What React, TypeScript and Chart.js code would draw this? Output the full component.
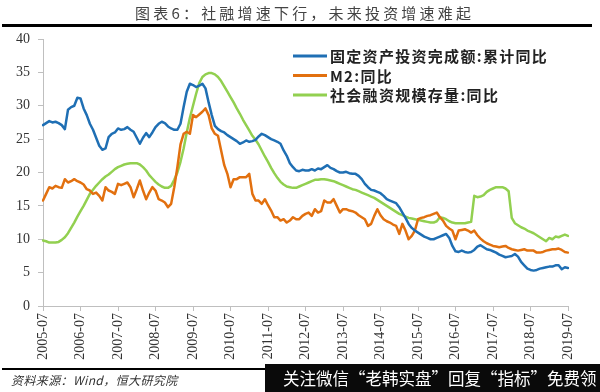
import React, { useEffect, useRef } from "react";
import { Chart, registerables } from "chart.js";

Chart.register(...registerables);

// ---- data ----
const firstYear = 2005;
const firstMonth = 7;
const monthCount = 169; // 2005-07 .. 2019-07

const yearTicks = [
  "2005-07", "2006-07", "2007-07", "2008-07", "2009-07", "2010-07", "2011-07", "2012-07",
  "2013-07", "2014-07", "2015-07", "2016-07", "2017-07", "2018-07", "2019-07",
];

const seriesNames = ["固定资产投资完成额:累计同比", "M2:同比", "社会融资规模存量:同比"];

const faiYoY = [
  27.1, 27.4, 27.7, 27.5, 27.6, 27.4, 27.1, 26.5, 29.4, 29.8, 30.0, 31.2,
  31.1, 29.6, 28.6, 27.3, 26.4, 25.2, 24.0, 23.4, 23.6, 25.3, 25.8, 26.0,
  26.6, 26.4, 26.5, 26.8, 26.4, 26.1, 25.2, 24.3, 25.2, 25.9, 25.3, 26.0,
  26.8, 27.3, 27.6, 27.4, 26.9, 26.6, 26.4, 26.4, 27.3, 29.8, 32.1, 33.3,
  33.1, 32.8, 33.0, 33.3, 32.6, 30.5, 28.6, 27.0, 26.5, 26.2, 26.0, 25.6,
  25.3, 25.0, 24.7, 24.3, 24.5, 24.8, 24.6, 24.7, 24.9, 25.4, 25.8, 25.6,
  25.3, 25.0, 24.8, 24.6, 24.3, 23.3, 22.5, 21.4, 20.8, 20.3, 20.2, 20.4,
  20.3, 20.3, 20.5, 20.3, 20.6, 20.5, 20.8, 21.1, 20.7, 20.5, 20.2, 20.0,
  20.0, 20.1, 19.9, 19.8, 19.8, 19.5, 19.0, 18.3, 17.8, 17.4, 17.3, 17.1,
  16.9, 16.5, 16.0, 15.8, 15.6, 15.4, 14.8, 14.0, 13.2, 12.3, 11.7, 11.3,
  11.0, 10.7, 10.4, 10.2, 10.0, 10.0, 10.2, 10.4, 10.6, 10.8, 10.2, 9.0,
  8.2, 8.1, 8.3, 8.1, 8.0, 8.1, 8.4, 8.9, 9.1, 8.8, 8.5, 8.4,
  8.2, 8.0, 7.7, 7.5, 7.3, 7.4, 7.5, 7.8, 7.4, 6.6, 6.1, 5.6,
  5.4, 5.3, 5.4, 5.6, 5.7, 5.8, 5.9, 5.9, 6.1, 6.1, 5.5, 5.8,
  5.7,
];

const m2YoY = [
  15.8, 16.8, 17.8, 17.6, 18.0, 17.8, 17.7, 19.0, 18.5, 18.7, 19.0, 18.7,
  18.5, 18.2, 17.5, 17.3, 16.8, 17.0, 16.5, 15.8, 17.8, 17.3, 17.1, 16.8,
  18.3, 18.1, 18.3, 18.5, 17.8, 16.3, 17.5, 18.8, 17.3, 16.0, 17.0, 17.8,
  17.3, 16.0, 15.8, 15.5, 14.8, 15.3, 17.8, 20.8, 24.2, 25.8, 26.1, 25.8,
  28.6, 28.3, 28.7, 29.1, 29.6, 28.6, 26.6, 25.8, 25.5, 23.3, 21.1, 19.8,
  17.8, 19.0, 19.0, 19.3, 19.3, 19.3, 19.8, 16.8, 15.8, 15.8, 15.3, 16.0,
  15.1, 14.3, 13.3, 13.3, 12.8, 13.0, 12.5, 12.8, 13.3, 13.0, 13.0, 13.5,
  13.8, 14.0, 13.5, 14.5, 14.0, 14.2, 15.8, 15.5, 15.5, 16.0, 15.0, 14.0,
  14.5, 14.5, 14.3, 14.2, 14.0, 13.6, 13.3, 13.0, 12.0, 12.3, 13.5, 14.5,
  13.6, 13.0, 12.7, 12.5, 12.2, 12.0, 10.8, 12.3, 11.3, 10.0, 10.5, 11.3,
  13.0, 13.2, 13.3, 13.5, 13.6, 13.8, 14.0, 13.3, 12.8, 12.0, 11.6, 11.3,
  10.0, 11.3, 11.4, 11.5, 11.3, 11.0, 11.3, 10.6, 10.1, 9.7, 9.4, 9.2,
  9.0, 8.9, 8.8, 8.9, 9.0, 8.7, 8.5, 8.4, 8.3, 8.4, 8.5, 8.3,
  8.3, 8.3, 8.0, 8.0, 8.1, 8.3, 8.4, 8.5, 8.5, 8.6, 8.4, 8.1,
  8.0,
];

const afreYoY = [
  9.8, 9.7, 9.5, 9.5, 9.5, 9.6, 9.9, 10.3, 10.9, 11.7, 12.5, 13.4,
  14.2, 15.0, 15.9, 16.8, 17.4, 18.0, 18.5, 19.0, 19.4, 19.7, 20.1, 20.5,
  20.8, 21.0, 21.2, 21.3, 21.4, 21.4, 21.4, 21.2, 20.8, 20.3, 19.6, 19.1,
  18.6, 18.2, 17.9, 17.7, 17.7, 18.0, 18.9, 20.0, 21.6, 23.6, 26.0, 28.2,
  30.0, 31.8, 33.4, 34.3, 34.7, 34.9, 34.9, 34.7, 34.3, 33.7, 32.9, 32.1,
  31.3, 30.5, 29.6, 28.8, 27.9, 27.1, 26.3, 25.5, 24.9, 24.2, 23.3, 22.4,
  21.6, 20.7, 19.9, 19.2, 18.6, 18.2, 17.9, 17.8, 17.7, 17.7, 17.9, 18.1,
  18.3, 18.5, 18.7, 18.9, 18.9, 19.0, 19.0, 18.9, 18.8, 18.7, 18.5, 18.3,
  18.1, 17.9, 17.7, 17.5, 17.4, 17.2, 17.0, 16.8, 16.6, 16.4, 16.2, 15.9,
  15.6, 15.3, 15.0, 14.7, 14.4, 14.1, 13.8, 13.6, 13.4, 13.2, 13.1, 13.0,
  12.9, 12.8, 12.7, 12.6, 12.5, 12.5, 12.7, 13.3, 13.2, 13.0, 12.7, 12.5,
  12.4, 12.4, 12.4, 12.4, 12.5, 12.6, 16.5, 16.3, 16.4, 16.6, 17.1, 17.4,
  17.6, 17.8, 17.8, 17.8, 17.6, 17.2, 13.2, 12.4, 12.1, 11.8, 11.6, 11.3,
  11.1, 10.9, 10.6, 10.3, 10.0, 9.7, 10.2, 10.0, 10.4, 10.3, 10.5, 10.7,
  10.5,
];

const yTicksMin = 0;
const yTicksMax = 40;
const yTicksStep = 5;

// month labels 2005-07 .. 2019-07
const months: string[] = [];
for (let k = 0; k < monthCount; k++) {
  const m0 = firstMonth - 1 + k;
  const y = firstYear + Math.floor(m0 / 12);
  const m = (m0 % 12) + 1;
  months.push(`${y}-${m < 10 ? "0" + m : m}`);
}

const colors = ["#1f6fb4", "#e2700f", "#92d050"];

const legendPlugin = {
  id: "customLegend",
  afterDraw(chart: any) {
    const ctx = chart.ctx as CanvasRenderingContext2D;
    const rows = [56, 75.5, 95];
    ctx.save();
    seriesNames.forEach((name, k) => {
      const y = rows[k];
      ctx.strokeStyle = colors[k];
      ctx.lineWidth = 3;
      ctx.beginPath();
      ctx.moveTo(293, y);
      ctx.lineTo(327, y);
      ctx.stroke();
      ctx.fillStyle = "#222";
      ctx.font = "bold 15px 'Noto Sans CJK SC'";
      (ctx as any).letterSpacing = "1.3px";
      ctx.textBaseline = "middle";
      ctx.textAlign = "left";
      ctx.fillText(name, 330, y + 0.5);
    });
    ctx.restore();
  },
};

export default function App() {
  const ref = useRef<HTMLCanvasElement | null>(null);

  useEffect(() => {
    if (!ref.current) return;
    const axisColor = "#bfbfbf";
    const tickFont = { family: "'Liberation Serif'", size: 14 };
    const chart = new Chart(ref.current, {
      type: "line",
      data: {
        labels: months,
        datasets: [
          { label: seriesNames[0], data: faiYoY, borderColor: colors[0], backgroundColor: colors[0] },
          { label: seriesNames[1], data: m2YoY, borderColor: colors[1], backgroundColor: colors[1] },
          { label: seriesNames[2], data: afreYoY, borderColor: colors[2], backgroundColor: colors[2] },
        ],
      },
      options: {
        responsive: false,
        maintainAspectRatio: false,
        animation: false,
        devicePixelRatio: 1,
        layout: { padding: { left: 0, right: 32, top: 39, bottom: 0 } },
        elements: {
          point: { radius: 0 },
          line: { borderWidth: 2.5, tension: 0, borderJoinStyle: "round", borderCapStyle: "round" },
        },
        plugins: {
          legend: { display: false },
          tooltip: { enabled: false },
          title: { display: false },
        },
        scales: {
          x: {
            type: "category",
            offset: false,
            grid: {
              display: true,
              drawOnChartArea: false,
              drawTicks: true,
              tickLength: 5,
              color: axisColor,
            },
            border: { display: true, color: axisColor, width: 1 },
            ticks: {
              autoSkip: false,
              minRotation: 90,
              maxRotation: 90,
              padding: 2,
              color: "#333",
              font: tickFont,
              callback: (_v: any, index: number) => {
                const lab = months[index];
                return yearTicks.includes(lab) ? lab : null;
              },
            },
            afterFit: (scale: any) => {
              scale.height = 86;
            },
          },
          y: {
            min: yTicksMin,
            max: yTicksMax,
            grid: {
              display: true,
              drawOnChartArea: false,
              drawTicks: true,
              tickLength: 5,
              color: axisColor,
            },
            border: { display: true, color: axisColor, width: 1 },
            ticks: {
              stepSize: yTicksStep,
              padding: 8,
              color: "#333",
              font: tickFont,
            },
            afterFit: (scale: any) => {
              scale.width = 43;
            },
          },
        },
      },
      plugins: [legendPlugin],
    } as any);
    return () => chart.destroy();
  }, []);

  return (
    <div style={{ position: "relative", width: 600, height: 392, overflow: "hidden", background: "#fff" }}>
      <style>{"body{margin:0;}"}</style>
      <canvas ref={ref} width={600} height={392} style={{ position: "absolute", left: 0, top: 0 }} />
      <div
        style={{
          position: "absolute",
          top: 4,
          left: 135,
          whiteSpace: "nowrap",
          fontFamily: "'Noto Sans CJK SC'",
          fontSize: 15,
          lineHeight: "18px",
          letterSpacing: "3.2px",
          color: "#444",
        }}
      >
        图表6：社融增速下行，未来投资增速难起
      </div>
      <div style={{ position: "absolute", top: 24, left: 2, width: 590, height: 3, background: "#000" }} />
      <div style={{ position: "absolute", top: 368, left: 2, width: 265, height: 1.5, background: "#000" }} />
      <div
        style={{
          position: "absolute",
          top: 371,
          left: 11,
          whiteSpace: "nowrap",
          fontFamily: "'Noto Sans CJK SC'",
          fontStyle: "italic",
          fontSize: 12,
          lineHeight: "17px",
          letterSpacing: "0.4px",
          color: "#333",
        }}
      >
        资料来源：Wind，恒大研究院
      </div>
      <div
        style={{
          position: "absolute",
          top: 364,
          left: 265,
          width: 335,
          height: 28,
          background: "#0a0a0a",
          color: "#fff",
          fontFamily: "'Noto Sans CJK SC'",
          fontSize: 16.5,
          lineHeight: "28px",
          whiteSpace: "nowrap",
          paddingLeft: 18,
          boxSizing: "border-box",
        }}
      >
        关注微信“老韩实盘”回复“指标”免费领
      </div>
    </div>
  );
}
